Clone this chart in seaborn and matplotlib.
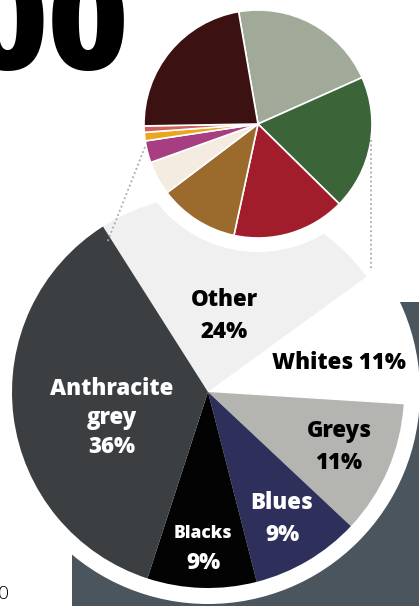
import matplotlib
matplotlib.use("Agg")
import matplotlib.pyplot as plt
import seaborn as sns
from matplotlib.patches import Circle, Rectangle

# Main pie: market share by colour group (clockwise from the top-left)
main_labels = ["Other\n24%", "Whites 11%", "Greys\n11%", "Blues\n9%", "Blacks\n9%", "Anthracite\ngrey\n36%"]
main_values = [24, 11, 11, 9, 9, 36]
main_colors = ["#f0f0f0", "#ffffff", "#b4b5b0", "#2f2f5c", "#030303", "#3b3f42"]
main_text_colors = ["black", "black", "black", "white", "white", "white"]

# Small pie: breakdown of "Other"
other_values = [21, 19, 16, 11.3, 4.8, 3.1, 1.2, 0.9, 22.5]
other_colors = ["#a1aa99", "#3b6539", "#a11d2b", "#9b6a2d", "#f4ece1",
                "#a83e82", "#e8a71f", "#d0605a", "#3b1211"]

W, H = 419, 606

sns.set_theme(style="white")
plt.rcParams["font.family"] = ["Open Sans", "DejaVu Sans"]

fig = plt.figure(figsize=(W / 100, H / 100), dpi=100)
ax = fig.add_axes([0, 0, 1, 1])

def Y(y):
    return H - y

# background slate block
ax.add_patch(Rectangle((72, 0), W - 72, Y(302), color="#4b555d", zorder=1, lw=0))

# main pie with white ring
cx, cy, r = 208, Y(392), 196
ax.add_patch(Circle((cx, cy), 212, color="white", zorder=2, lw=0))
wedges, _ = ax.pie(main_values, colors=main_colors, startangle=122.4, counterclock=False,
                   center=(cx, cy), radius=r, wedgeprops=dict(linewidth=0))
for w in wedges:
    w.set_zorder(3)

# labels for the main pie
label_pos = [(224, 316), (339, 363), (339, 447), (282, 519), (203, 548), (112, 418)]
for lab, (x, y), c in zip(main_labels, label_pos, main_text_colors):
    if lab.startswith("Blacks"):
        # narrow wedge: smaller name, normal-size percentage
        name, pct = lab.split("\n")
        ax.text(x, Y(y - 15), name, ha="center", va="center", color=c, fontsize=12.5,
                fontweight="heavy", zorder=7)
        ax.text(x, Y(y + 15), pct, ha="center", va="center", color=c, fontsize=16,
                fontweight="heavy", zorder=7)
        continue
    ls = 1.3 if lab.startswith("Anthracite") else 1.4
    ax.text(x, Y(y), lab, ha="center", va="center", color=c, fontsize=16,
            fontweight="heavy", linespacing=ls, zorder=7)

# small pie
sx, sy, sr = 258, Y(124), 114
ax.add_patch(Circle((sx, sy), 128, color="white", zorder=4, lw=0))
swedges, _ = ax.pie(other_values, colors=other_colors, startangle=99.8, counterclock=False,
                    center=(sx, sy), radius=sr,
                    wedgeprops=dict(linewidth=1.2, edgecolor="white"))
for w in swedges:
    w.set_zorder(5)

# dotted connector lines
ax.plot([145, 107], [Y(147), Y(243)], color="#aaaaaa", ls=(0, (1, 1.5)), lw=1.3, zorder=6)
ax.plot([371, 371], [Y(140), Y(270)], color="#aaaaaa", ls=(0, (1, 1.5)), lw=1.3, zorder=6)

# cropped title figures
ax.text(129, Y(70), "00", ha="right", va="baseline", fontsize=100, fontweight="black",
        color="black", zorder=6)
ax.text(9, Y(599), "0", ha="right", va="baseline", fontsize=14, fontweight="light",
        color="black", zorder=6)

ax.set_xlim(0, W)
ax.set_ylim(0, H)
ax.set_aspect("equal")
ax.axis("off")

fig.savefig("out.png", dpi=100)
